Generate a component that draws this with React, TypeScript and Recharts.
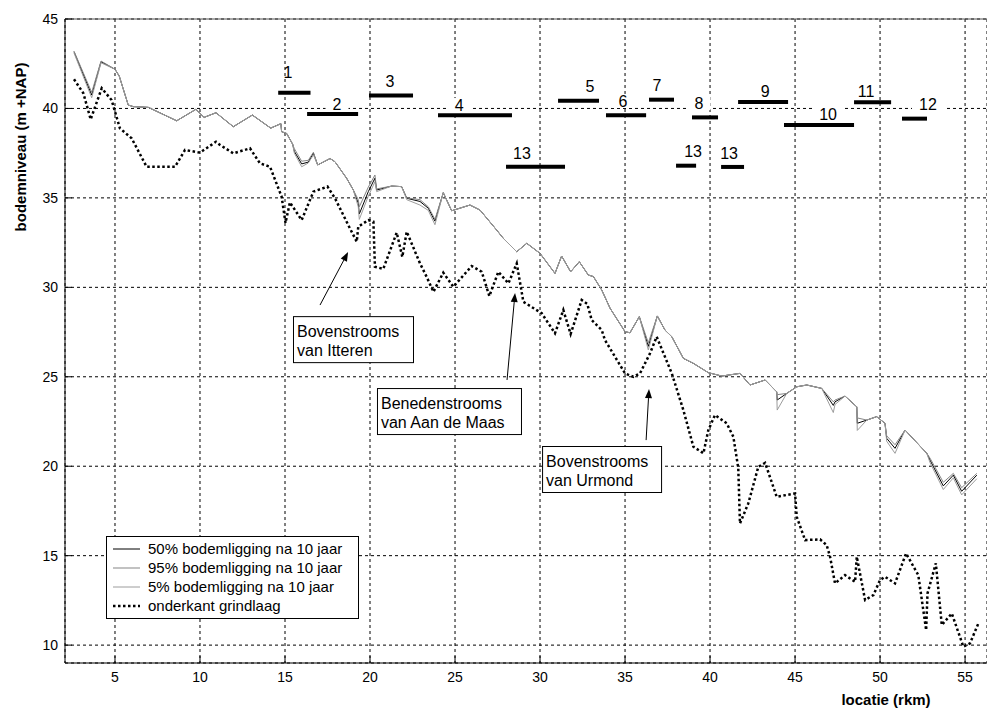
import React from "react";
import {
  LineChart,
  Line,
  XAxis,
  YAxis,
  CartesianGrid,
  ReferenceLine,
  ReferenceDot,
  Legend,
} from "recharts";

// river km of the bed level profiles
const bedKm = [
  2.59, 3.63, 4.18, 5.0, 5.25, 5.78, 6.08, 6.96, 8.63, 9.76, 10.24, 10.94, 11.96, 13.08, 14.16,
  14.76, 14.8, 15.1, 15.45, 15.55, 15.98, 16.37, 16.67, 16.92, 17.65, 17.94, 18.63, 19.02, 19.31,
  19.37, 19.9, 20.29, 20.39, 21.27, 21.86, 22.16, 22.94, 23.43, 23.82, 24.31, 24.8, 25.88, 26.47,
  27.45, 27.84, 28.63, 29.22, 30.0, 30.88, 31.27, 31.8, 32.31, 32.84, 33.14, 33.63, 34.12, 35.0,
  35.29, 35.84, 36.37, 36.9, 37.35, 37.75, 38.43, 39.02, 39.9, 40.69, 41.76, 42.35, 43.24, 43.92,
  43.95, 44.51, 45.1, 45.69, 46.57, 47.25, 47.35, 47.94, 48.63, 48.66, 49.22, 49.8, 50.29, 50.39,
  50.88, 51.47, 52.75, 52.94, 53.72, 54.31, 54.8, 55.69,
];
const bed50 = [
  43.17, 40.75, 42.61, 42.19, 41.81, 40.19, 40.1, 40.06, 39.31, 39.95, 39.5, 39.76, 38.98, 39.63, 38.9,
  39.15, 38.7, 38.6, 38.0, 37.6, 36.9, 37.0, 37.5, 36.84, 37.2, 37.02, 36.09, 35.44, 34.7,
  34.1, 35.35, 36.1, 35.44, 35.66, 35.63, 34.98, 34.8, 34.42, 33.7, 35.29, 34.28, 34.6, 34.32,
  33.2, 32.74, 31.99, 32.46, 31.9, 30.78, 31.75, 30.87, 31.43, 30.69, 30.6, 29.85, 28.83, 27.52,
  27.46, 28.36, 26.7, 28.4, 27.61, 27.24, 26.03, 25.75, 25.23, 25.04, 25.19, 24.54, 24.82, 24.16,
  23.7, 24.07, 24.44, 24.54, 24.35, 23.4, 23.6, 23.92, 23.32, 22.4, 22.58, 22.77, 22.4, 21.56,
  21.0, 22.02, 20.72, 20.34, 18.9, 19.5, 18.6, 19.5,
];
const bed95 = [
  43.2, 40.9, 42.65, 42.19, 41.81, 40.19, 40.1, 40.06, 39.31, 39.95, 39.5, 39.76, 38.98, 39.63, 38.9,
  39.15, 38.7, 38.6, 38.0, 37.75, 37.05, 37.1, 37.55, 36.84, 37.2, 37.02, 36.09, 35.44, 34.9,
  34.5, 35.6, 36.28, 35.5, 35.66, 35.63, 35.0, 34.9, 34.5, 33.8, 35.29, 34.28, 34.6, 34.32,
  33.2, 32.74, 31.99, 32.46, 31.9, 30.78, 31.75, 30.87, 31.43, 30.69, 30.6, 29.85, 28.83, 27.52,
  27.46, 28.36, 26.9, 28.4, 27.61, 27.24, 26.03, 25.75, 25.23, 25.04, 25.19, 24.54, 24.82, 24.16,
  24.0, 24.07, 24.44, 24.54, 24.35, 23.6, 23.7, 23.92, 23.32, 22.7, 22.58, 22.77, 22.4, 21.7,
  21.2, 22.02, 20.72, 20.45, 19.1, 19.6, 18.8, 19.6,
];
const bed5 = [
  43.1, 40.6, 42.55, 42.19, 41.81, 40.19, 40.1, 40.06, 39.31, 39.95, 39.5, 39.76, 38.98, 39.63, 38.9,
  39.15, 38.7, 38.6, 38.0, 37.5, 36.74, 36.95, 37.4, 36.84, 37.2, 37.02, 36.09, 35.44, 34.5,
  33.8, 35.1, 35.9, 35.35, 35.66, 35.63, 34.9, 34.6, 34.3, 33.5, 35.29, 34.28, 34.6, 34.32,
  33.2, 32.74, 31.99, 32.46, 31.9, 30.78, 31.75, 30.87, 31.43, 30.69, 30.6, 29.85, 28.83, 27.52,
  27.46, 28.36, 26.5, 28.4, 27.61, 27.24, 26.03, 25.75, 25.23, 25.04, 25.19, 24.54, 24.82, 24.16,
  23.14, 24.07, 24.44, 24.54, 24.35, 23.0, 23.45, 23.92, 23.32, 22.0, 22.58, 22.77, 22.4, 21.4,
  20.72, 22.02, 20.72, 20.2, 18.7, 19.35, 18.4, 19.3,
];

// onderkant grindlaag
const gravelKm = [
  2.59, 3.14, 3.57, 4.22, 4.8, 5.06, 5.29, 5.98, 6.86, 8.53, 9.12, 10.0, 10.94, 11.18, 11.96,
  12.94, 13.53, 14.12, 14.8, 15.03, 15.29, 15.98, 16.67, 17.5, 17.94, 18.72, 19.22, 19.31, 19.9,
  20.2, 20.29, 20.78, 21.57, 21.9, 22.16, 22.94, 23.33, 23.73, 24.31, 24.9, 25.98, 26.57, 27.02,
  27.55, 28.14, 28.63, 29.02, 30.1, 30.88, 31.37, 31.8, 32.45, 32.78, 33.04, 33.63, 33.82, 35.0,
  35.49, 35.88, 36.47, 36.86, 37.75, 38.43, 39.02, 39.61, 39.9, 40.29, 40.98, 41.37, 41.66, 41.76,
  42.25, 42.84, 43.24, 43.92, 45.0, 45.1, 45.59, 46.47, 46.86, 47.06, 47.35, 47.94, 48.53, 48.63,
  49.12, 49.61, 50.0, 50.29, 50.88, 51.53, 52.25, 52.71, 52.79, 53.28, 53.63, 54.22, 54.9, 55.29,
  55.78,
];
const gravelTop = [
  41.63, 40.85, 39.39, 41.13, 40.47, 39.63, 38.89, 38.33, 36.74, 36.74, 37.68, 37.53, 38.14, 37.96, 37.49,
  37.77, 36.93, 36.74, 35.07, 33.6, 34.75, 33.76, 35.35, 35.63, 34.98, 33.48, 32.55, 33.39, 33.76,
  33.67, 31.15, 31.03, 33.06, 31.7, 33.11, 31.34, 30.59, 29.75, 30.82, 30.03, 31.19, 30.87, 29.51,
  30.87, 30.22, 31.34, 29.19, 28.55, 27.43, 28.73, 27.39, 29.29, 29.07, 28.17, 27.61, 27.05, 25.19,
  25.0, 25.19, 26.31, 27.24, 25.19, 23.14, 21.09, 20.72, 22.02, 22.86, 22.4, 21.65, 19.9, 16.8,
  17.92, 19.97, 20.19, 18.29, 18.48, 17.17, 15.87, 15.91, 15.59, 14.94, 13.45, 13.91, 13.54, 14.94,
  12.52, 12.8, 13.64, 13.82, 13.45, 15.13, 13.91, 10.84, 12.89, 14.57, 11.12, 11.77, 9.91, 10.1,
  11.21,
];

const xTicks = [5, 10, 15, 20, 25, 30, 35, 40, 45, 50, 55];
const yTicks = [10, 15, 20, 25, 30, 35, 40, 45];

// numbered river reaches (km from, km to, level)
const reachName = ["1", "2", "3", "4", "13", "5", "6", "7", "8", "13", "13", "9", "10", "11", "12"];
const reachFrom = [14.6, 16.3, 19.94, 24.0, 28.0, 31.06, 33.88, 36.41, 38.94, 38.0, 40.65, 41.65, 44.35, 48.47, 51.29];
const reachTo = [16.5, 19.3, 22.53, 28.35, 31.47, 33.47, 36.24, 37.88, 40.47, 39.18, 42.0, 44.59, 48.47, 50.65, 52.76];
const reachLevel = [40.88, 39.69, 40.73, 39.62, 36.74, 40.43, 39.62, 40.49, 39.5, 36.8, 36.73, 40.36, 39.07, 40.34, 39.43];
// where each number is written
const reachLabelKm = [15.18, 18.06, 21.18, 25.24, 28.94, 32.94, 34.88, 36.88, 39.35, 39.0, 41.12, 43.24, 46.94, 49.18, 52.82];
const reachLabelLevel = [42.04, 40.25, 41.53, 40.19, 37.51, 41.25, 40.42, 41.31, 40.3, 37.62, 37.51, 40.97, 39.69, 40.97, 40.25];

// callouts: text, box corner (km, level), arrow tail and head
const callouts = [
  { lines: ["Bovenstrooms", "van Itteren"], km: 15.47, lvl: 28.39, w: 120, tail: [17.06, 29.01], head: [18.71, 31.97] },
  { lines: ["Benedenstrooms", "van Aan de Maas"], km: 20.41, lvl: 24.37, w: 144, tail: [28.06, 24.82], head: [28.53, 29.68] },
  { lines: ["Bovenstrooms", "van Urmond"], km: 30.12, lvl: 21.13, w: 119, tail: [36.24, 21.46], head: [36.41, 24.31] },
];

const FONT = "'Liberation Sans', Arial, sans-serif";

const series = [
  { name: "50% bodemligging na 10 jaar", color: "#000000", dash: undefined, width: 1 },
  { name: "95% bodemligging na 10 jaar", color: "#858585", dash: undefined, width: 1 },
  { name: "5% bodemligging na 10 jaar", color: "#9c9c9c", dash: undefined, width: 1 },
  { name: "onderkant grindlaag", color: "#000000", dash: "2.5 2.5", width: 2.5 },
];

const bed50Data = bedKm.map((km, i) => ({ km, v: bed50[i] }));
const bed95Data = bedKm.map((km, i) => ({ km, v: bed95[i] }));
const bed5Data = bedKm.map((km, i) => ({ km, v: bed5[i] }));
const gravelData = gravelKm.map((km, i) => ({ km, v: gravelTop[i] }));

function LegendBox() {
  return (
    <div
      style={{
        width: 251,
        height: 79,
        border: "1px solid #000",
        background: "#fff",
        fontFamily: FONT,
        fontSize: 15,
        paddingTop: 2,
        boxSizing: "content-box",
      }}
    >
      {series.map((s) => (
        <div key={s.name} style={{ height: 19, display: "flex", alignItems: "center", whiteSpace: "nowrap" }}>
          <svg width={41} height={10} style={{ flex: "none" }}>
            <line x1={6} y1={5} x2={33} y2={5} stroke={s.color} strokeWidth={s.dash ? 2.5 : 1} strokeDasharray={s.dash} />
          </svg>
          <span style={{ color: "#000" }}>{s.name}</span>
        </div>
      ))}
    </div>
  );
}

function ReachLabel(props: any) {
  const { cx, cy, text } = props;
  const onGrid = props.bg;
  const w = text.length * 9 + 14;
  return (
    <g>
      {onGrid && <rect x={cx - w / 2} y={cy - 7} width={w} height={14} fill="#fff" />}
      <text x={cx} y={cy + 6} textAnchor="middle" fontSize={16} fontFamily={FONT} fill="#000">
        {text}
      </text>
    </g>
  );
}

function CalloutBox(props: any) {
  const { cx, cy, lines, w } = props;
  return (
    <g>
      <rect x={cx + 0.5} y={cy + 0.5} width={w} height={46} fill="#fff" stroke="#000" strokeWidth={1} />
      {lines.map((t: string, i: number) => (
        <text key={i} x={cx + 4} y={cy + 21 + i * 19} fontSize={16} fontFamily={FONT} fill="#000">
          {t}
        </text>
      ))}
    </g>
  );
}

function Arrow(props: any) {
  const { x1, y1, x2, y2 } = props;
  const a = Math.atan2(y2 - y1, x2 - x1);
  const len = 9;
  const half = 3.5;
  const bx = x2 - len * Math.cos(a);
  const by = y2 - len * Math.sin(a);
  const px = -Math.sin(a) * half;
  const py = Math.cos(a) * half;
  return (
    <g>
      <line x1={x1} y1={y1} x2={bx} y2={by} stroke="#000" strokeWidth={1} />
      <polygon points={`${x2},${y2} ${bx + px},${by + py} ${bx - px},${by - py}`} fill="#000" />
    </g>
  );
}

export default function App() {
  return (
    <div style={{ position: "absolute", left: 0, top: 0, width: 987, height: 709, overflow: "hidden", background: "#fff" }}>
      <LineChart width={987} height={709} margin={{ top: 19, right: 0, bottom: 0, left: 0 }}>
        <CartesianGrid stroke="#000" strokeDasharray="3 3" strokeWidth={1} />
        <XAxis
          type="number"
          dataKey="km"
          domain={[2.06, 56.29]}
          allowDataOverflow
          ticks={xTicks}
          height={46}
          stroke="#000"
          tickSize={-7}
          tickMargin={16}
          tick={{ fontSize: 14, fill: "#000", fontFamily: FONT }}
          label={{
            content: (p: any) => {
              const vb = p.viewBox || { x: 65, y: 663, width: 922, height: 46 };
              return (
                <text x={vb.x + vb.width - 101} y={vb.y + vb.height - 4} textAnchor="middle" fontSize={15} fontWeight="bold" fontFamily={FONT} fill="#000">
                  locatie (rkm)
                </text>
              );
            },
          }}
        />
        <YAxis
          type="number"
          domain={[9, 45]}
          allowDataOverflow
          ticks={yTicks}
          width={65}
          stroke="#000"
          tickSize={-7}
          tickMargin={14}
          tick={{ fontSize: 14, fill: "#000", fontFamily: FONT }}
          label={{
            content: () => (
              <text x={26} y={147} transform="rotate(-90 26 147)" textAnchor="middle" fontSize={15} fontWeight="bold" fontFamily={FONT} fill="#000">
                bodemniveau (m +NAP)
              </text>
            ),
          }}
        />
        <ReferenceLine y={45} stroke="#555" strokeWidth={1} />

        <Line data={gravelData} dataKey="v" name={series[3].name} stroke="#000" strokeWidth={2.5} strokeDasharray="2.5 2.5" dot={false} isAnimationActive={false} />
        <Line data={bed50Data} dataKey="v" name={series[0].name} stroke={series[0].color} strokeWidth={1} dot={false} isAnimationActive={false} />
        <Line data={bed95Data} dataKey="v" name={series[1].name} stroke={series[1].color} strokeWidth={1} dot={false} isAnimationActive={false} />
        <Line data={bed5Data} dataKey="v" name={series[2].name} stroke={series[2].color} strokeWidth={1} dot={false} isAnimationActive={false} />

        {reachName.map((n, i) => (
          <ReferenceLine
            key={"r" + i}
            segment={[
              { x: reachFrom[i], y: reachLevel[i] },
              { x: reachTo[i], y: reachLevel[i] },
            ]}
            stroke="#000"
            strokeWidth={4}
          />
        ))}
        {reachName.map((n, i) => (
          <ReferenceDot
            key={"l" + i}
            x={reachLabelKm[i]}
            y={reachLabelLevel[i]}
            r={0}
            shape={(p: any) => <ReachLabel cx={p.cx} cy={p.cy} text={n} bg={Math.abs(reachLabelLevel[i] - 40) < 0.6} />}
          />
        ))}

        {callouts.map((c, i) => (
          <ReferenceLine
            key={"a" + i}
            segment={[
              { x: c.tail[0], y: c.tail[1] },
              { x: c.head[0], y: c.head[1] },
            ]}
            shape={(p: any) => <Arrow {...p} />}
          />
        ))}
        {callouts.map((c, i) => (
          <ReferenceDot
            key={"c" + i}
            x={c.km}
            y={c.lvl}
            r={0}
            shape={(p: any) => <CalloutBox cx={p.cx} cy={p.cy} lines={c.lines} w={c.w} />}
          />
        ))}

        <Legend
          layout="vertical"
          align="center"
          verticalAlign="middle"
          wrapperStyle={{ left: 106, top: 536, width: 253, height: 81 }}
          content={() => <LegendBox />}
        />
      </LineChart>
    </div>
  );
}
